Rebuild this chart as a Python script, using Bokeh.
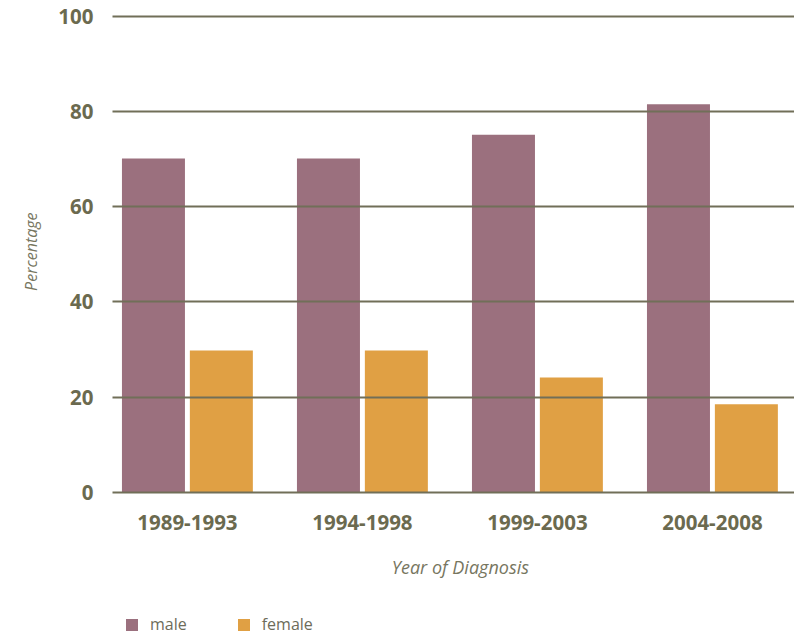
from bokeh.plotting import figure
from bokeh.models import Range1d, FixedTicker, Legend, LegendItem, Label, Title
from bokeh.core.properties import value
from bokeh.embed import file_html
from bokeh.resources import INLINE

periods = ["1989-1993", "1994-1998", "1999-2003", "2004-2008"]
male = [70.2, 70.2, 75.2, 81.6]
female = [29.8, 29.8, 24.1, 18.5]
y_ticks = [0, 20, 40, 60, 80, 100]

MALE_C = "#9b707e"
FEMALE_C = "#e0a044"
TXT = "#6b6a4f"
LBL = "#77765f"
FONT = "Open Sans"

centers = [i + 0.5 for i in range(len(periods))]
male_x = [c - 0.194 for c in centers]
female_x = [c + 0.194 for c in centers]

# the frame reaches down to the legend row so the legend is drawn inside it
p = figure(frame_width=682, frame_height=622,
           output_backend="svg", toolbar_location=None,
           x_range=Range1d(0.072, 3.969), y_range=Range1d(-30.4, 100.5),
           min_border_left=112, min_border_top=14, min_border_right=0,
           min_border_bottom=0)
p.outline_line_color = None
p.background_fill_color = "white"
p.border_fill_color = "white"

r_m = p.vbar(x=male_x, top=male, width=0.36, fill_color=MALE_C, line_color=None)
r_f = p.vbar(x=female_x, top=female, width=0.36, fill_color=FEMALE_C, line_color=None)

# category labels under the bars
p.text(x=centers, y=[-6.4] * len(centers), text=periods,
       text_font=value(FONT), text_font_style="bold",
       text_font_size=value("20.5px"), text_color=TXT,
       text_align="center", text_baseline="middle")

p.add_layout(Label(x=2.06, y=-15.7, text="Year of Diagnosis",
                   text_font=FONT, text_font_style="italic",
                   text_font_size="18px", text_color=LBL,
                   text_align="center", text_baseline="middle"))

p.xgrid.visible = False
p.xaxis.visible = False
p.ygrid.ticker = FixedTicker(ticks=y_ticks)
p.ygrid.grid_line_color = "#716f58"
p.ygrid.grid_line_width = 2
p.ygrid.level = "overlay"

yax = p.yaxis[0]
yax.ticker = FixedTicker(ticks=y_ticks)
yax.axis_line_color = None
yax.major_tick_line_color = None
yax.minor_tick_line_color = None
yax.major_tick_out = 0
yax.major_tick_in = 0
yax.minor_tick_out = 0
yax.major_label_standoff = 19
yax.major_label_text_font = FONT
yax.major_label_text_font_style = "bold"
yax.major_label_text_font_size = "20.5px"
yax.major_label_text_color = TXT

p.add_layout(Title(text="Percentage", align="right", offset=198, standoff=28,
                   text_font=FONT, text_font_style="italic",
                   text_font_size="16px", text_color=LBL), "left")

legend = Legend(items=[LegendItem(label="male", renderers=[r_m]),
                       LegendItem(label="female", renderers=[r_f])],
                orientation="horizontal", location=(12, 1),
                margin=0, padding=0, spacing=49,
                glyph_width=15, glyph_height=15, label_height=15,
                label_standoff=11,
                border_line_color=None, background_fill_alpha=0,
                label_text_font=FONT, label_text_font_size="16px",
                label_text_color="#6d6c5a")
p.add_layout(legend, "center")

open("out.html", "w").write(file_html(p, INLINE))
